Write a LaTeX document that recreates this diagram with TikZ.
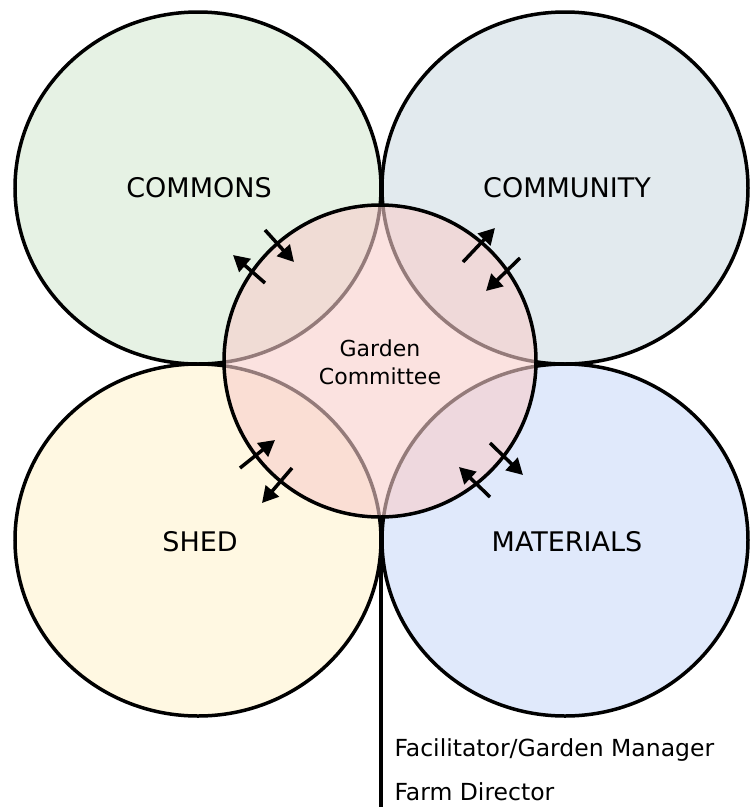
\documentclass[tikz,border=0pt]{standalone}
\usepackage{fontspec}
\setmainfont{DejaVu Sans}
\usetikzlibrary{shapes.geometric,arrows.meta}
\definecolor{cgreen}{HTML}{E6F2E4}
\definecolor{cgrey}{HTML}{E2EAEE}
\definecolor{cyellow}{HTML}{FFF8E2}
\definecolor{cblue}{HTML}{E0E9FB}
\definecolor{cpink}{HTML}{F8CECC}
\tikzset{
  petal/.style={ellipse, draw=black, line width=3.5pt, minimum width=366pt, minimum height=352pt, inner sep=0pt},
  core/.style={circle, draw=black, line width=3.5pt, minimum size=312pt, inner sep=0pt, fill=cpink, fill opacity=0.6, text opacity=1},
  biglabel/.style={font=\fontsize{27}{32}\selectfont, text=black},
  corelabel/.style={font=\fontsize{22}{28}\selectfont, text=black, align=center},
  rolelabel/.style={font=\fontsize{23.5}{28}\selectfont, text=black, anchor=west},
  flow/.style={line width=3.5pt, -{Triangle[length=16pt, width=17pt]}},
  stem/.style={line width=3.5pt}
}
\begin{document}
\begin{tikzpicture}[x=1pt,y=-1pt]
\useasboundingbox (0,0) rectangle (755,807);
\node[petal, fill=cgreen]  (commons)   at (198,188) {};
\node[petal, fill=cgrey]   (community) at (565,188) {};
\node[petal, fill=cyellow] (shed)      at (198,540) {};
\node[petal, fill=cblue]   (materials) at (565,540) {};
\node[core] (committee) at (380,361) {};
% labels
\node[biglabel] (lcommons)   at (199,188) {COMMONS};
\node[biglabel] (lcommunity) at (567,188) {COMMUNITY};
\node[biglabel] (lshed)      at (200,542) {SHED};
\node[biglabel] (lmaterials) at (567,542) {MATERIALS};
\node[corelabel] (lcommittee) at (380,362) {Garden\\Committee};
% stem
\coordinate (stemtop) at (381,517);
\coordinate (stembot) at (381,810);
\draw[stem] (stemtop) -- (stembot);
\node[rolelabel] (role1) at (391,750) {Facilitator/Garden Manager};
\node[rolelabel] (role2) at (391,792) {Farm Director};
% arrows top-left
\coordinate (a1s) at (265,230); \coordinate (a1e) at (294,262);
\coordinate (a2s) at (265,283); \coordinate (a2e) at (233,255);
\draw[flow] (a1s) -- (a1e);
\draw[flow] (a2s) -- (a2e);
% arrows top-right
\coordinate (b1s) at (463,262); \coordinate (b1e) at (495,228);
\coordinate (b2s) at (520,258); \coordinate (b2e) at (486,291);
\draw[flow] (b1s) -- (b1e);
\draw[flow] (b2s) -- (b2e);
% arrows bottom-left
\coordinate (c1s) at (240,468); \coordinate (c1e) at (275,440);
\coordinate (c2s) at (292,468); \coordinate (c2e) at (262,503);
\draw[flow] (c1s) -- (c1e);
\draw[flow] (c2s) -- (c2e);
% arrows bottom-right
\coordinate (d1s) at (490,443); \coordinate (d1e) at (523,475);
\coordinate (d2s) at (490,497); \coordinate (d2e) at (459,467);
\draw[flow] (d1s) -- (d1e);
\draw[flow] (d2s) -- (d2e);
\end{tikzpicture}
\end{document}
